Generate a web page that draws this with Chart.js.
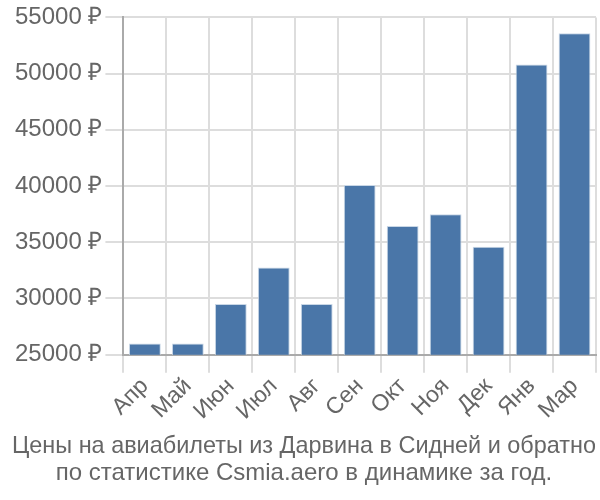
<!DOCTYPE html>
<html>
<head>
<meta charset="utf-8">
<script src="https://cdn.jsdelivr.net/npm/chart.js@4/dist/chart.umd.min.js"></script>
<style>
  html, body { margin: 0; padding: 0; background: #fff; }
  #wrap { width: 600px; height: 500px; }
</style>
</head>
<body>
<div id="wrap"><canvas id="chart" width="600" height="500"></canvas></div>
<script>
const months = ["Апр", "Май", "Июн", "Июл", "Авг", "Сен", "Окт", "Ноя", "Дек", "Янв", "Мар"];
const prices = [26000, 26000, 29500, 32750, 29500, 40100, 36450, 37500, 34600, 50800, 53600];
const titleLines = [
  "Цены на авиабилеты из Дарвина в Сидней и обратно",
  "по статистике Csmia.aero в динамике за год."
];

const ctx = document.getElementById("chart").getContext("2d");
new Chart(ctx, {
  type: "bar",
  data: {
    labels: months,
    datasets: [{
      data: prices,
      backgroundColor: "#4a76a8",
      borderColor: "#c9d7e6",
      borderWidth: 1,
      barPercentage: 0.74,
      categoryPercentage: 1
    }]
  },
  options: {
    responsive: false,
    animation: false,
    layout: { padding: { top: 0, right: 4, left: 12, bottom: 0 } },
    plugins: {
      legend: { display: false },
      tooltip: { enabled: false },
      title: {
        display: true,
        position: "bottom",
        text: titleLines,
        color: "#666",
        font: { family: "Liberation Sans", size: 24, weight: "normal", lineHeight: 1.12 },
        padding: { top: 8, bottom: 13 }
      }
    },
    scales: {
      x: {
        offset: true,
        grid: { color: "#dddddd", lineWidth: 2, offset: true, tickLength: 18 },
        border: { color: "#aaaaaa", width: 2 },
        ticks: {
          color: "#666",
          font: { family: "Liberation Sans", size: 23 },
          autoSkip: false,
          maxRotation: 45,
          minRotation: 45,
          padding: 0
        }
      },
      y: {
        min: 25000,
        max: 55000,
        grid: { color: "#dddddd", lineWidth: 2, tickLength: 18 },
        border: { color: "#aaaaaa", width: 2 },
        ticks: {
          stepSize: 5000,
          color: "#666",
          font: { family: "Liberation Sans", size: 24 },
          padding: 3,
          callback: v => v + " ₽"
        }
      }
    }
  }
});
</script>
</body>
</html>
